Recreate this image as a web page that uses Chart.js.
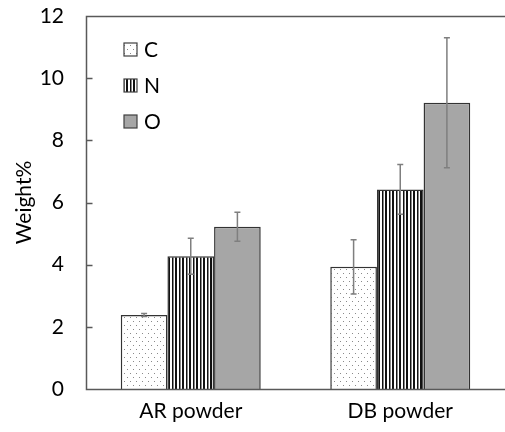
<!DOCTYPE html>
<html>
<head>
<meta charset="utf-8">
<script src="https://cdn.jsdelivr.net/npm/chart.js@4/dist/chart.umd.min.js"></script>
<style>
  html, body { margin: 0; padding: 0; background: #fff; overflow: hidden; }
  #wrap { width: 505px; height: 432px; }
  canvas { display: block; }
</style>
</head>
<body>
<div id="wrap"><canvas id="c" width="505" height="432"></canvas></div>
<script>
// data
var categories = ['AR powder', 'DB powder'];
var seriesNames = ['C', 'N', 'O'];
var valC = [2.38, 3.93];
var errC = [0.05, 0.87];
var valN = [4.27, 6.42];
var errN = [0.58, 0.80];
var valO = [5.22, 9.21];
var errO = [0.47, 2.09];
var yTicks = [0, 2, 4, 6, 8, 10, 12];

var FONT = 'Lato, "Open Sans", sans-serif';
var FSIZE = 21;

// fill patterns
function dotPattern() {
	var p = document.createElement('canvas');
	p.width = 6; p.height = 8;
	var g = p.getContext('2d');
	g.fillStyle = '#fff';
	g.fillRect(0, 0, 6, 8);
	g.fillStyle = '#8a8a8a';
	g.fillRect(1, 1, 1, 1);
	g.fillRect(4, 5, 1, 1);
	return g.createPattern(p, 'repeat');
}
function stripePattern() {
	var p = document.createElement('canvas');
	p.width = 7; p.height = 4;
	var g = p.getContext('2d');
	g.fillStyle = '#fff';
	g.fillRect(0, 0, 7, 4);
	g.fillStyle = '#111';
	g.fillRect(0, 0, 2, 4);
	g.fillRect(4, 0, 1.5, 4);
	return g.createPattern(p, 'repeat');
}

var ctx = document.getElementById('c').getContext('2d');
var fills = [dotPattern(), stripePattern(), '#a6a6a6'];
var errs = [errC, errN, errO];

var extras = {
	id: 'extras',
	afterDraw: function(chart) {
		var g = chart.ctx;
		var ys = chart.scales.y;
		var area = chart.chartArea;
		var W = chart.width;
		g.save();
		// keep the right edge open
		g.fillStyle = '#fff';
		g.fillRect(W - 6, 0, 6, chart.height);
		// error bars
		g.strokeStyle = '#7f7f7f';
		g.lineWidth = 1.5;
		chart.data.datasets.forEach(function(ds, di) {
			var meta = chart.getDatasetMeta(di);
			meta.data.forEach(function(bar, i) {
				var v = ds.data[i], e = errs[di][i];
				var x = bar.x;
				var yt = ys.getPixelForValue(v + e);
				var yb = ys.getPixelForValue(v - e);
				g.beginPath();
				g.moveTo(x, yt); g.lineTo(x, yb);
				g.moveTo(x - 3, yt); g.lineTo(x + 3, yt);
				g.moveTo(x - 3, yb); g.lineTo(x + 3, yb);
				g.stroke();
			});
		});
		// axis frame (left, bottom, top) and inward ticks
		var L = Math.round(area.left) + 0.5, T = Math.round(area.top) + 0.5, B = Math.round(area.bottom) + 0.5;
		g.strokeStyle = '#595959';
		g.lineWidth = 1.5;
		g.beginPath();
		g.moveTo(W, T);
		g.lineTo(L, T);
		g.lineTo(L, B);
		g.lineTo(W, B);
		yTicks.forEach(function(t) {
			var y = Math.round(ys.getPixelForValue(t)) + 0.5;
			g.moveTo(L, y);
			g.lineTo(L + 6, y);
		});
		g.stroke();
		// legend inside the plot
		g.font = FSIZE + 'px ' + FONT;
		g.textBaseline = 'middle';
		g.textAlign = 'left';
		chart.data.datasets.forEach(function(ds, di) {
			var bx = area.left + 38, by = area.top + 27 + di * 36;
			g.fillStyle = fills[di];
			g.fillRect(bx, by, 13, 13);
			g.strokeStyle = '#404040';
			g.lineWidth = 1.2;
			g.strokeRect(bx, by, 13, 13);
			g.fillStyle = '#000';
			g.fillText(ds.label, bx + 20, by + 7);
		});
		g.restore();
	}
};

var datasets = [valC, valN, valO].map(function(vals, i) {
	return {
		label: seriesNames[i],
		data: vals,
		backgroundColor: fills[i],
		borderColor: '#333',
		borderWidth: 1.5,
		categoryPercentage: 0.668,
		barPercentage: 1
	};
});

new Chart(ctx, {
	type: 'bar',
	data: { labels: categories, datasets: datasets },
	options: {
		responsive: false,
		animation: false,
		layout: { padding: { top: 16, right: 0, left: 0, bottom: 0 } },
		plugins: { legend: { display: false }, tooltip: { enabled: false } },
		scales: {
			x: {
				grid: { display: false, drawTicks: false },
				border: { display: false },
				ticks: { color: '#000', padding: 10, font: { family: FONT, size: FSIZE } },
				afterFit: function(s) { s.height = 43; }
			},
			y: {
				min: 0, max: 12,
				grid: { display: false, drawTicks: false },
				border: { display: false },
				ticks: { stepSize: 2, color: '#000', padding: 22, font: { family: FONT, size: FSIZE } },
				title: { display: true, text: 'Weight%', color: '#000', padding: { top: 12, bottom: 0 }, font: { family: FONT, size: FSIZE } },
				afterFit: function(s) { s.width = 86; s.paddingTop = 0; s.paddingBottom = 0; }
			}
		}
	},
	plugins: [extras]
});
</script>
</body>
</html>
